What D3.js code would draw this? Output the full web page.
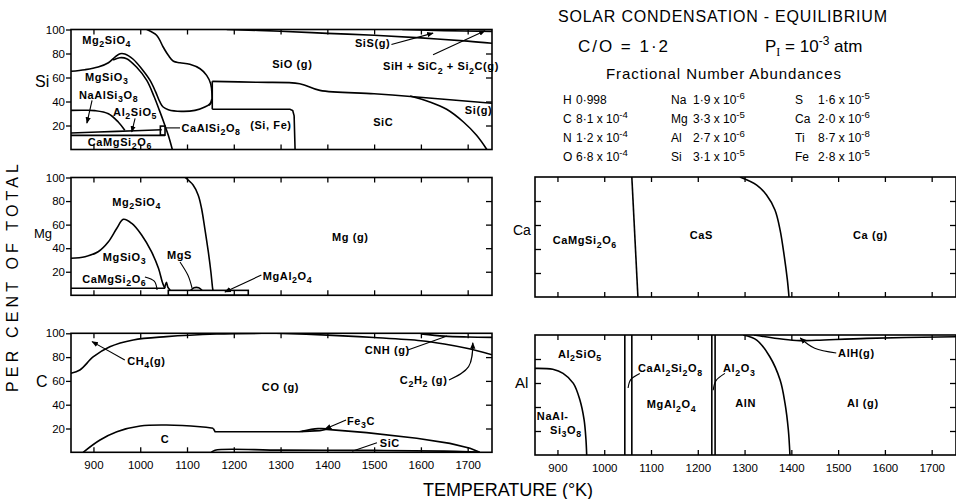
<!DOCTYPE html>
<html>
<head>
<meta charset="utf-8">
<script src="https://cdn.jsdelivr.net/npm/d3@7"></script>
<style>
body { margin: 0; background: #fff; }
svg { font-family: "Liberation Sans", Arial, sans-serif; }
</style>
</head>
<body>
<script>
var width = 956, height = 499;

// shared axes
var tempDomain = [852, 1752];
var tempTicks = [900, 1000, 1100, 1200, 1300, 1400, 1500, 1600, 1700];
var pctTicks = [20, 40, 60, 80, 100];
var innerTicks = [20, 40, 60, 80];

// ---- Si : boundaries [T (K), per cent]
var siForsteriteTop = [[1014,100],[1035,95.2],[1049,85.4],[1060,78.5],[1071,73.5],[1085,72.3],[1106,71],[1128,67.3],[1142,61.8],[1150.6,54.8],[1153.4,46.5],[1152.7,39.6],[1147,36.8]];
var siEnstatiteTop = [[852,65.2],[882,66.5],[910,68.7],[932,72.3],[946,77],[957,79.8],[967,79.6],[985,75.2],[1003,67.3],[1021,57.6],[1033,48],[1042,39.6],[1049,35.4],[1060,33.2],[1088,31.8],[1117,32.6],[1138,35.4],[1149,38.2],[1153,42]];
var siInner = [[942,74.6],[956,76.5],[971,75.7],[992,68.7],[1014,57.6],[1030,43.7],[1041,32.6],[1051.5,21.5],[1060,11.8],[1068.6,0]];
var siAlbiteTop = [[852,32.6],[880,32.7],[903,32.4],[932,29.8],[953,22.9],[967,16]];
var siAndalusiteTop = [[852,13.8],[950,15.1],[1046,16.5]];
var siDiopsideTop = [[852,11.8],[1053,11.8]];
var siAnorthiteBox = [[1043,12],[1053,19.5]];
var siDomeStep = [[1154,56.8],[1154,33.5]];
var siSioSic = [[1154,56.8],[1250,56],[1341,54.8],[1384,49.3],[1500,46.5],[1591,43.8],[1752,38.5]];
var siSiFe = [[1154,33.5],[1320,33.5],[1326,32.5],[1329,28],[1331,0]];
var siSiGas = [[1577,44.6],[1619,39.6],[1655,33.5],[1691,22.9],[1719,11.8],[1741,0]];
var siSiS = [[1185,100],[1300,98.6],[1400,96.8],[1500,95.2],[1600,93],[1700,90.3],[1752,88.5]];
var siSiH = [[1560,100],[1650,99.1],[1752,98.4]];

// ---- Mg
var mgForsteriteGas = [[1096,100],[1113,93.6],[1124,85],[1131,73.9],[1138,56.9],[1145.5,37],[1151,20],[1154.7,6],[1155.5,4.2]];
var mgEnstatiteTop = [[852,31.4],[882,32.8],[910,37],[932,45.5],[950,56.9],[964,64.5],[982,61],[1003,51.2],[1024,37],[1039,22.9],[1047,11.5],[1051,7.3],[1053,6]];
var mgDiopsideTop = [[852,6],[1053,6]];
var mgSpike = [[1052,6],[1056,11],[1059,7],[1064,4.5]];
var mgSpinelBand = [[1060,0],[1231,4.2]];
var mgSulfide = [[1108,4.2],[1115,6.4],[1125,6.4],[1132,4.2]];

// ---- C
var cMethane = [[852,66.4],[871,69.2],[900,80.3],[935,88.7],[985,94.4],[1056,97.2],[1163,99.4],[1260,100]];
var cGraphiteLow = [[878,0],[914,10.3],[950,17.3],[1000,22.1],[1056,22.9],[1128,21.5],[1156,20.2]];
var cGraphiteHigh = [[1156,20.2],[1160,17.3],[1270,17.3],[1341,17.4],[1384,18.2],[1399,19.3],[1484,16.5],[1591,11.8],[1662,7.5],[1705,3.4],[1726,0]];
var cCohenite = [[1345,17.6],[1380,19.9],[1410,19.6]];
var cSiC = [[1152,0],[1160,1.8],[1300,1.8],[1500,1.6],[1650,1],[1720,0.3]];
var cAcetylene = [[1290,100],[1400,98.5],[1500,96.5],[1600,93.8],[1650,91],[1698,87.4],[1752,82]];
var cCNH = [[1600,99.5],[1650,97.6],[1700,96.9],[1752,96.6]];

// ---- Ca
var caDiopsideCaS = [[1059,100],[1072,0]];
var caCaSGas = [[1290,100],[1326,93.3],[1347,85],[1365,72.5],[1376,55.8],[1385,33.6],[1391.5,14.2],[1395,0]];

// ---- Al
var alAlbiteTop = [[852,72.2],[890,71.4],[912,68],[934,59.7],[948,45.8],[957,29.2],[961,12.5],[962.5,0]];
var alBandEdges = [1044, 1059, 1230, 1237];
var alNitrideGas = [[1297,100],[1326,95.8],[1354,81.9],[1376,62.5],[1386.5,43],[1393.6,20.8],[1397,0]];
var alHydride = [[1320,100],[1383,96.4],[1418,95.3],[1454,95.6],[1561,97.2],[1752,98.6]];

// ---- phase labels [text, T, per cent]
var siLabels = [["Mg2SiO4",876,88],["MgSiO3",882,57],["NaAlSi3O8",869,42],["Al2SiO5",942,28],["CaAlSi2O8",1088,14.6],["CaMgSi2O6",888,3],["SiO (g)",1282,68],["(Si, Fe)",1235,17],["SiC",1498,20],["SiS(g)",1459,85.4],["SiH + SiC2 + Si2C(g)",1519,66],["Si(g)",1694,29.6]];
var mgLabels = [["Mg2SiO4",940,75.8],["MgSiO3",920,29.1],["MgS",1057,30.8],["CaMgSi2O6",876,10.4],["MgAl2O4",1262,13],["Mg (g)",1410,46]];
var cLabels = [["CH4(g)",972,73.4],["CO (g)",1260,51.5],["C",1044,7.8],["Fe3C",1442,23],["SiC",1512,4.5],["CNH (g)",1480,82.6],["C2H2 (g)",1555,57.4]];
var caLabels = [["CaMgSi2O6",890,44],["CaS",1183,48.3],["Ca (g)",1532,48.3]];
var alLabels = [["Al2SiO5",901,80.8],["NaAl-",856,29.5],["Si3O8",884,17.5],["CaAl2Si2O8",1072,69],["Al2O3",1254,69],["MgAl2O4",1091,39],["AlN",1280,40],["Al (g)",1519,40],["AlH(g)",1500,81.7]];

// ---- leader lines (last point is the tip)
var siLeaders = [[[897,41],[886,22]],[[989,26],[982,14.6]],[[1053,18],[1085,18]],[[1537,87.5],[1626,97]],[[1626,79],[1737,99]]];
var mgLeaders = [[[1085,28.3],[1102,17],[1110.7,6.2]],[[1010,15.5],[1030,12],[1036,4.5]],[[1259,17.2],[1181,2.8]]];
var cLeaders = [[[967,77.6],[897,93]],[[1440,27.1],[1395,19.6]],[[1506,8],[1453,0.8]],[[1572,86],[1656,97.7]],[[1660,60.8],[1702,72],[1711,92]]];
var alLeaders = [[[1076,68],[1057,63],[1051,55.8]],[[1258,68],[1239,62],[1233,54]],[[1496,85],[1450,89],[1419,97.5]]];

// ---- abundances
var abElements = [["H","C","N","O"],["Na","Mg","Al","Si"],["S","Ca","Ti","Fe"]];
var abValues = [["0·998","8·1 x 10^-4","1·2 x 10^-4","6·8 x 10^-4"],
                ["1·9 x 10^-6","3·3 x 10^-5","2·7 x 10^-6","3·1 x 10^-5"],
                ["1·6 x 10^-5","2·0 x 10^-6","8·7 x 10^-8","2·8 x 10^-5"]];

var svg = d3.select("body").append("svg")
    .attr("width", width).attr("height", height)
    .style("background", "#fff");

var defs = svg.append("defs");
defs.append("marker").attr("id", "arr").attr("viewBox", "0 0 10 10")
    .attr("refX", 9).attr("refY", 5).attr("markerWidth", 6).attr("markerHeight", 6)
    .attr("orient", "auto")
  .append("path").attr("d", "M0,1L10,5L0,9z").attr("fill", "#000");

function formula(sel, str, size) {
    var parts = str.match(/\d+|[^\d]+/g), sub = false;
    parts.forEach(function(s) {
        var t = sel.append("tspan").text(s);
        if (/^\d/.test(s)) { t.attr("dy", size * 0.3).attr("font-size", size * 0.8); sub = true; }
        else if (sub) { t.attr("dy", -size * 0.3); sub = false; }
    });
}

function sci(sel, str, size) {
    var parts = str.split(/\^(\S+)/);
    parts.forEach(function(s, i) {
        if (s === "") return;
        var t = sel.append("tspan").text(s);
        if (i % 2) t.attr("dy", -size * 0.42).attr("font-size", size * 0.8);
        else if (i > 0) t.attr("dy", size * 0.42);
    });
}

var smooth = d3.curveCatmullRom.alpha(0.5);

var panels = [
  {el: "Si", x: [71, 492], y: [29.5, 149.5], left: true, xlab: false, elx: 35, ely: 87, els: 16,
   lines: [siForsteriteTop, siEnstatiteTop, siInner, siAlbiteTop, siAndalusiteTop, siDiopsideTop, siSioSic, siSiGas, siSiS, siSiH],
   sharp: [siDomeStep, siSiFe], boxes: [siAnorthiteBox], labels: siLabels, leaders: siLeaders, arrows: [0, 1, 3, 4]},
  {el: "Mg", x: [71, 492], y: [177.5, 295.3], left: true, xlab: false, elx: 34, ely: 238, els: 13,
   lines: [mgForsteriteGas, mgEnstatiteTop, mgSpike, mgSulfide],
   sharp: [mgDiopsideTop], boxes: [mgSpinelBand], labels: mgLabels, leaders: mgLeaders, arrows: [2]},
  {el: "C", x: [71, 492], y: [333.3, 452.3], left: true, xlab: true, elx: 36, ely: 387, els: 16,
   lines: [cMethane, cGraphiteLow, cCohenite, cSiC, cAcetylene, cCNH],
   sharp: [cGraphiteHigh], boxes: [], labels: cLabels, leaders: cLeaders, arrows: [0, 1, 4]},
  {el: "Ca", x: [535, 956], y: [177, 297], left: false, xlab: false, elx: 513, ely: 235, els: 14,
   lines: [caCaSGas], sharp: [caDiopsideCaS], boxes: [], labels: caLabels, leaders: [], arrows: []},
  {el: "Al", x: [535, 956], y: [335, 455], left: false, xlab: true, elx: 515, ely: 388, els: 15,
   lines: [alAlbiteTop, alNitrideGas, alHydride], sharp: [], boxes: [], verticals: alBandEdges,
   labels: alLabels, leaders: alLeaders, arrows: [2]}
];

panels.forEach(function(p, i) {
    var x = d3.scaleLinear().domain(tempDomain).range(p.x);
    var y = d3.scaleLinear().domain([0, 100]).range([p.y[1], p.y[0]]);
    var g = svg.append("g");

    defs.append("clipPath").attr("id", "clip" + i).append("rect")
        .attr("x", p.x[0]).attr("y", p.y[0]).attr("width", p.x[1] - p.x[0]).attr("height", p.y[1] - p.y[0]);

    var plot = g.append("g").attr("clip-path", "url(#clip" + i + ")");
    var lineSmooth = d3.line().x(function(d) { return x(d[0]); }).y(function(d) { return y(d[1]); }).curve(smooth);
    var lineSharp = d3.line().x(function(d) { return x(d[0]); }).y(function(d) { return y(d[1]); });

    plot.selectAll(".smooth").data(p.lines).enter().append("path")
        .attr("d", lineSmooth).attr("fill", "none").attr("stroke", "#000").attr("stroke-width", 1.6);
    plot.selectAll(".sharp").data(p.sharp).enter().append("path")
        .attr("d", lineSharp).attr("fill", "none").attr("stroke", "#000").attr("stroke-width", 1.6);
    plot.selectAll(".box").data(p.boxes).enter().append("rect")
        .attr("x", function(d) { return x(d[0][0]); })
        .attr("y", function(d) { return y(d[1][1]); })
        .attr("width", function(d) { return x(d[1][0]) - x(d[0][0]); })
        .attr("height", function(d) { return y(d[0][1]) - y(d[1][1]); })
        .attr("fill", "none").attr("stroke", "#000").attr("stroke-width", 1.6);
    if (p.verticals) {
        plot.selectAll(".vert").data(p.verticals).enter().append("line")
            .attr("x1", function(d) { return x(d); }).attr("x2", function(d) { return x(d); })
            .attr("y1", y(0)).attr("y2", y(100)).attr("stroke", "#000").attr("stroke-width", 1.6);
    }

    // leaders
    var lead = d3.line().x(function(d) { return x(d[0]); }).y(function(d) { return y(d[1]); }).curve(d3.curveNatural);
    g.selectAll(".lead").data(p.leaders).enter().append("path")
        .attr("d", lead).attr("fill", "none").attr("stroke", "#000").attr("stroke-width", 1.1)
        .attr("marker-end", function(d, j) { return p.arrows.indexOf(j) >= 0 ? "url(#arr)" : null; });

    // phase labels
    g.selectAll(".lab").data(p.labels).enter().append("text")
        .attr("x", function(d) { return x(d[1]); }).attr("y", function(d) { return y(d[2]); })
        .attr("font-size", 11).attr("font-weight", "bold").attr("letter-spacing", 0.6)
        .each(function(d) { formula(d3.select(this), d[0], 11); });

    // frame
    g.append("rect").attr("x", p.x[0]).attr("y", p.y[0])
        .attr("width", p.x[1] - p.x[0]).attr("height", p.y[1] - p.y[0])
        .attr("fill", "none").attr("stroke", "#000").attr("stroke-width", 1.6);

    // axes
    var ax = g.append("g").attr("class", "axes");
    ax.append("g").attr("transform", "translate(0," + p.y[0] + ")")
        .call(d3.axisTop(x).tickValues(tempTicks).tickSize(-5).tickFormat(""));
    ax.append("g").attr("transform", "translate(0," + p.y[1] + ")")
        .call(d3.axisBottom(x).tickValues(tempTicks).tickSize(-5).tickPadding(9)
            .tickFormat(p.xlab ? d3.format("d") : ""));
    if (p.left) {
        ax.append("g").attr("transform", "translate(" + p.x[0] + ",0)")
            .call(d3.axisLeft(y).tickValues(pctTicks).tickSize(5).tickPadding(1));
    } else {
        ax.append("g").attr("transform", "translate(" + p.x[0] + ",0)")
            .call(d3.axisLeft(y).tickValues(innerTicks).tickSize(-6).tickFormat(""));
    }
    ax.append("g").attr("transform", "translate(" + p.x[1] + ",0)")
        .call(d3.axisRight(y).tickValues(innerTicks).tickSize(-6).tickFormat(""));
    ax.selectAll(".domain").remove();
    ax.selectAll(".tick line").attr("stroke", "#000").attr("stroke-width", 1.3);
    ax.selectAll(".tick text").attr("font-size", 11.5).attr("fill", "#000")
        .attr("font-family", "'Liberation Sans', Arial, sans-serif");

    g.append("text").attr("x", p.elx).attr("y", p.ely)
        .attr("font-size", p.els).text(p.el);
});

// axis titles
svg.append("text").attr("transform", "translate(18,278) rotate(-90)")
    .attr("text-anchor", "middle").attr("font-size", 16)
    .attr("textLength", 228).attr("lengthAdjust", "spacing").text("PER CENT OF TOTAL");
svg.append("text").attr("x", 508).attr("y", 496)
    .attr("text-anchor", "middle").attr("font-size", 18)
    .attr("textLength", 170).attr("lengthAdjust", "spacing").text("TEMPERATURE (°K)");

// header
svg.append("text").attr("x", 558).attr("y", 22).attr("font-size", 16)
    .attr("textLength", 329).attr("lengthAdjust", "spacing").text("SOLAR CONDENSATION - EQUILIBRIUM");
svg.append("text").attr("x", 578).attr("y", 52).attr("font-size", 17)
    .attr("textLength", 90).attr("lengthAdjust", "spacing").text("C/O = 1·2");
var pi = svg.append("text").attr("x", 765).attr("y", 52).attr("font-size", 17);
pi.append("tspan").text("P");
pi.append("tspan").attr("dy", 4).attr("font-size", 12).attr("font-family", "'Liberation Serif', serif").text("I");
pi.append("tspan").attr("dy", -4).text(" = 10");
pi.append("tspan").attr("dy", -7).attr("font-size", 12).text("-3");
pi.append("tspan").attr("dy", 7).text(" atm");
svg.append("text").attr("x", 606).attr("y", 79).attr("font-size", 15)
    .attr("textLength", 235).attr("lengthAdjust", "spacing").text("Fractional Number Abundances");

var colSym = [563, 671, 795], colVal = [576, 693, 818], rowY = [104, 123, 142, 161];
abElements.forEach(function(col, c) {
    col.forEach(function(sym, r) {
        svg.append("text").attr("x", colSym[c]).attr("y", rowY[r]).attr("font-size", 12).text(sym);
        svg.append("text").attr("x", colVal[c]).attr("y", rowY[r]).attr("font-size", 12)
            .each(function() { sci(d3.select(this), abValues[c][r], 12); });
    });
});
</script>
</body>
</html>
